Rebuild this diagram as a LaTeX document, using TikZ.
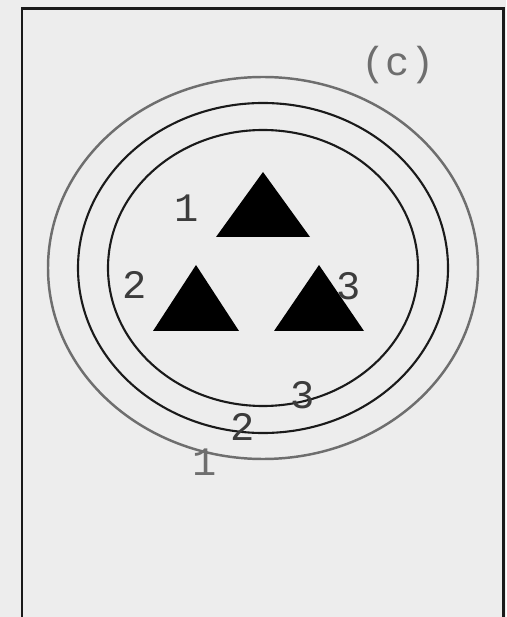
\documentclass[tikz,border=0pt]{standalone}
\usepackage{fontspec}
\setmonofont{Liberation Mono}
\usepackage{tikz}
\usetikzlibrary{positioning}
\definecolor{paper}{HTML}{EDEDED}
\definecolor{inkdark}{HTML}{1A1A1A}
\definecolor{inkgrey}{HTML}{6E6E6E}

\begin{document}
\begin{tikzpicture}[x=0.02cm, y=-0.02cm,
  ringdark/.style={draw=inkdark, line width=1.2pt},
  ringgrey/.style={draw=inkgrey, line width=1.4pt},
  pin/.style={fill=black},
  numlab/.style={font=\ttfamily\fontsize{23}{26}\selectfont, text=inkdark!85, inner sep=0pt},
]
% page and frame (pixel units, y downwards)
\fill[paper] (0,0) rectangle (506,617);
\useasboundingbox (0,0) rectangle (506,617);
\draw[inkdark, line width=1.7pt] (22,617) -- (22,9) -- (503,9) -- (503,617);

% rings 1..3, common centre
\coordinate (mid) at (263,268);
\draw[ringgrey] (mid) ellipse [x radius=215, y radius=191];
\draw[ringdark] (mid) ellipse [x radius=185, y radius=165];
\draw[ringdark] (mid) ellipse [x radius=155, y radius=138];

% three contact pins (apex x, apex y, half base, height)
\foreach \i/\ax/\ay/\hw/\h in {1/263/172/47/65, 2/196/265/43/66, 3/319/265/45/66} {
  \fill[pin] (\ax,\ay) -- (\ax+\hw,\ay+\h) -- (\ax-\hw,\ay+\h) -- cycle;
}

% pin numbers
\node[numlab] (lab1) at (187,208) {1};
\node[numlab] (lab2) at (135,285) {2};
\node[numlab] (lab3) at (349,286) {3};

% ring numbers
\node[numlab] (ring3) at (303,395) {3};
\node[numlab] (ring2) at (243,427) {2};
\node[numlab, text=inkgrey] (ring1) at (205,462) {1};

\node[numlab, text=inkgrey] (title) at (398,65) {(c)};
\end{tikzpicture}
\end{document}
